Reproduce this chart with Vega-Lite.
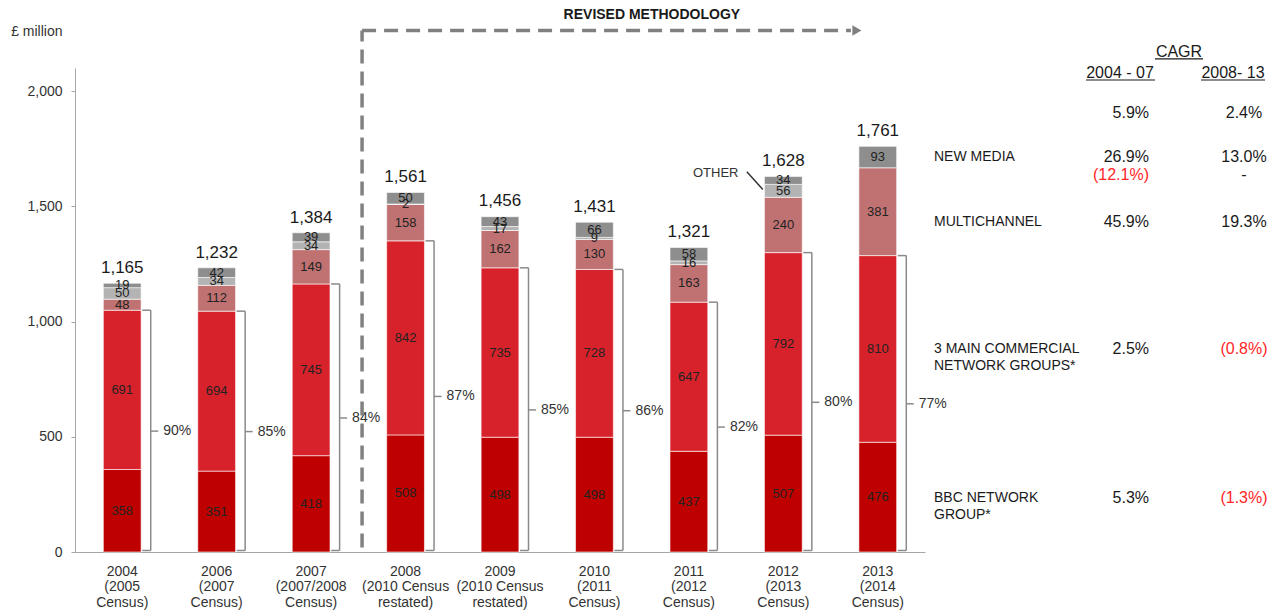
{
  "$schema": "https://vega.github.io/schema/vega-lite/v6.json",
  "width": 1212,
  "height": 484,
  "autosize": {"type": "none"},
  "padding": {"left": 75, "top": 68, "right": 0, "bottom": 62},
  "background": "white",
  "config": {
    "view": {"stroke": null},
    "font": "Liberation Sans",
    "text": {"font": "Liberation Sans"},
    "axis": {"labelFont": "Liberation Sans", "titleFont": "Liberation Sans"}
  },
  "datasets": {
    "segments": [
      {"period": "2004 (2005 Census)", "series": "BBC Network Group", "rank": 1, "value": 358},
      {"period": "2004 (2005 Census)", "series": "3 Main Commercial Network Groups", "rank": 2, "value": 691},
      {"period": "2004 (2005 Census)", "series": "Multichannel", "rank": 3, "value": 48},
      {"period": "2004 (2005 Census)", "series": "Other", "rank": 4, "value": 50},
      {"period": "2004 (2005 Census)", "series": "New Media", "rank": 5, "value": 19},
      {"period": "2006 (2007 Census)", "series": "BBC Network Group", "rank": 1, "value": 351},
      {"period": "2006 (2007 Census)", "series": "3 Main Commercial Network Groups", "rank": 2, "value": 694},
      {"period": "2006 (2007 Census)", "series": "Multichannel", "rank": 3, "value": 112},
      {"period": "2006 (2007 Census)", "series": "Other", "rank": 4, "value": 34},
      {"period": "2006 (2007 Census)", "series": "New Media", "rank": 5, "value": 42},
      {"period": "2007 (2007/2008 Census)", "series": "BBC Network Group", "rank": 1, "value": 418},
      {"period": "2007 (2007/2008 Census)", "series": "3 Main Commercial Network Groups", "rank": 2, "value": 745},
      {"period": "2007 (2007/2008 Census)", "series": "Multichannel", "rank": 3, "value": 149},
      {"period": "2007 (2007/2008 Census)", "series": "Other", "rank": 4, "value": 34},
      {"period": "2007 (2007/2008 Census)", "series": "New Media", "rank": 5, "value": 39},
      {"period": "2008 (2010 Census restated)", "series": "BBC Network Group", "rank": 1, "value": 508},
      {"period": "2008 (2010 Census restated)", "series": "3 Main Commercial Network Groups", "rank": 2, "value": 842},
      {"period": "2008 (2010 Census restated)", "series": "Multichannel", "rank": 3, "value": 158},
      {"period": "2008 (2010 Census restated)", "series": "Other", "rank": 4, "value": 2},
      {"period": "2008 (2010 Census restated)", "series": "New Media", "rank": 5, "value": 50},
      {"period": "2009 (2010 Census restated)", "series": "BBC Network Group", "rank": 1, "value": 498},
      {"period": "2009 (2010 Census restated)", "series": "3 Main Commercial Network Groups", "rank": 2, "value": 735},
      {"period": "2009 (2010 Census restated)", "series": "Multichannel", "rank": 3, "value": 162},
      {"period": "2009 (2010 Census restated)", "series": "Other", "rank": 4, "value": 17},
      {"period": "2009 (2010 Census restated)", "series": "New Media", "rank": 5, "value": 43},
      {"period": "2010 (2011 Census)", "series": "BBC Network Group", "rank": 1, "value": 498},
      {"period": "2010 (2011 Census)", "series": "3 Main Commercial Network Groups", "rank": 2, "value": 728},
      {"period": "2010 (2011 Census)", "series": "Multichannel", "rank": 3, "value": 130},
      {"period": "2010 (2011 Census)", "series": "Other", "rank": 4, "value": 9},
      {"period": "2010 (2011 Census)", "series": "New Media", "rank": 5, "value": 66},
      {"period": "2011 (2012 Census)", "series": "BBC Network Group", "rank": 1, "value": 437},
      {"period": "2011 (2012 Census)", "series": "3 Main Commercial Network Groups", "rank": 2, "value": 647},
      {"period": "2011 (2012 Census)", "series": "Multichannel", "rank": 3, "value": 163},
      {"period": "2011 (2012 Census)", "series": "Other", "rank": 4, "value": 16},
      {"period": "2011 (2012 Census)", "series": "New Media", "rank": 5, "value": 58},
      {"period": "2012 (2013 Census)", "series": "BBC Network Group", "rank": 1, "value": 507},
      {"period": "2012 (2013 Census)", "series": "3 Main Commercial Network Groups", "rank": 2, "value": 792},
      {"period": "2012 (2013 Census)", "series": "Multichannel", "rank": 3, "value": 240},
      {"period": "2012 (2013 Census)", "series": "Other", "rank": 4, "value": 56},
      {"period": "2012 (2013 Census)", "series": "New Media", "rank": 5, "value": 34},
      {"period": "2013 (2014 Census)", "series": "BBC Network Group", "rank": 1, "value": 476},
      {"period": "2013 (2014 Census)", "series": "3 Main Commercial Network Groups", "rank": 2, "value": 810},
      {"period": "2013 (2014 Census)", "series": "Multichannel", "rank": 3, "value": 381},
      {"period": "2013 (2014 Census)", "series": "New Media", "rank": 5, "value": 93}
    ],
    "totals": [
      {"period": "2004 (2005 Census)", "total": 1165},
      {"period": "2006 (2007 Census)", "total": 1232},
      {"period": "2007 (2007/2008 Census)", "total": 1384},
      {"period": "2008 (2010 Census restated)", "total": 1561},
      {"period": "2009 (2010 Census restated)", "total": 1456},
      {"period": "2010 (2011 Census)", "total": 1431},
      {"period": "2011 (2012 Census)", "total": 1321},
      {"period": "2012 (2013 Census)", "total": 1628},
      {"period": "2013 (2014 Census)", "total": 1761}
    ],
    "brackets": [
      {"period": "2004 (2005 Census)", "core": 1049, "share": "90%"},
      {"period": "2006 (2007 Census)", "core": 1045, "share": "85%"},
      {"period": "2007 (2007/2008 Census)", "core": 1163, "share": "84%"},
      {"period": "2008 (2010 Census restated)", "core": 1350, "share": "87%"},
      {"period": "2009 (2010 Census restated)", "core": 1233, "share": "85%"},
      {"period": "2010 (2011 Census)", "core": 1226, "share": "86%"},
      {"period": "2011 (2012 Census)", "core": 1084, "share": "82%"},
      {"period": "2012 (2013 Census)", "core": 1299, "share": "80%"},
      {"period": "2013 (2014 Census)", "core": 1286, "share": "77%"}
    ],
    "cagrLabels": [
      {"col": "label", "text": "NEW MEDIA", "v": 1714},
      {"col": "label", "text": "MULTICHANNEL", "v": 1430},
      {"col": "label", "text": "3 MAIN COMMERCIAL\nNETWORK  GROUPS*", "v": 880},
      {"col": "label", "text": "BBC NETWORK\nGROUP*", "v": 236}
    ],
    "cagrValues": [
      {"col": "2004 - 07", "text": "5.9%", "v": 1906},
      {"col": "2004 - 07", "text": "26.9%", "v": 1714},
      {"col": "2004 - 07", "text": "(12.1%)", "v": 1636},
      {"col": "2004 - 07", "text": "45.9%", "v": 1430},
      {"col": "2004 - 07", "text": "2.5%", "v": 880},
      {"col": "2004 - 07", "text": "5.3%", "v": 236},
      {"col": "2008- 13", "text": "2.4%", "v": 1906},
      {"col": "2008- 13", "text": "13.0%", "v": 1714},
      {"col": "2008- 13", "text": "-", "v": 1636},
      {"col": "2008- 13", "text": "19.3%", "v": 1430},
      {"col": "2008- 13", "text": "(0.8%)", "v": 880},
      {"col": "2008- 13", "text": "(1.3%)", "v": 236}
    ]
  },
  "resolve": {"scale": {"x": "independent"}},
  "layer": [
    {
      "layer": [
        {
          "data": {"name": "segments"},
          "transform": [
            {"stack": "value", "groupby": ["period"], "sort": [{"field": "rank", "order": "ascending"}], "as": ["v0", "v1"]}
          ],
          "mark": {"type": "bar", "stroke": "white", "strokeWidth": 0.6},
          "encoding": {
            "x": {
              "field": "period", "type": "nominal", "sort": null, "title": null,
              "scale": {"domain": ["2004 (2005 Census)", "2006 (2007 Census)", "2007 (2007/2008 Census)", "2008 (2010 Census restated)", "2009 (2010 Census restated)", "2010 (2011 Census)", "2011 (2012 Census)", "2012 (2013 Census)", "2013 (2014 Census)"], "range": [0, 850], "paddingInner": 0.6, "paddingOuter": 0.3},
              "axis": {
                "labelAngle": 0, "ticks": false, "tickSize": 0, "domainColor": "#a6a6a6", "domainWidth": 1,
                "labelFontSize": 14, "labelColor": "#333333", "labelLineHeight": 15.5, "labelPadding": 12,
                "labelExpr": "length(split(datum.value, ' ')) > 3 ? [split(datum.value, ' ')[0], split(datum.value, ' ')[1] + ' ' + split(datum.value, ' ')[2], split(datum.value, ' ')[3]] : split(datum.value, ' ')"
              }
            },
            "y": {
              "field": "v0", "type": "quantitative",
              "scale": {"domain": [0, 2100], "nice": false, "zero": true},
              "axis": {
                "values": [0, 500, 1000, 1500, 2000], "format": ",", "labelExpr": "format(datum.value, ',')", "grid": false,
                "domainColor": "#a6a6a6", "tickColor": "#a6a6a6", "tickSize": 4, "labelPadding": 9,
                "labelFontSize": 14, "labelColor": "#333333",
                "title": "£ million", "titleAngle": 0, "titleAlign": "right", "titleBaseline": "middle",
                "titleX": -13, "titleY": -37, "titleFontSize": 14, "titleFontWeight": "normal", "titleColor": "#333333"
              }
            },
            "y2": {"field": "v1"},
            "color": {
              "field": "series", "type": "nominal", "legend": null,
              "scale": {
                "domain": ["BBC Network Group", "3 Main Commercial Network Groups", "Multichannel", "Other", "New Media"],
                "range": ["#BF0000", "#D7222B", "#C07272", "#B3B3B3", "#8E8E8E"]
              }
            }
          }
        },
        {
          "data": {"name": "segments"},
          "transform": [
            {"stack": "value", "groupby": ["period"], "sort": [{"field": "rank", "order": "ascending"}], "as": ["v0", "v1"]},
            {"calculate": "(datum.v0 + datum.v1) / 2", "as": "mid"}
          ],
          "mark": {"type": "text", "fontSize": 13, "color": "#222222", "baseline": "middle", "align": "center"},
          "encoding": {
            "x": {"field": "period", "type": "nominal", "sort": null,
              "scale": {"domain": ["2004 (2005 Census)", "2006 (2007 Census)", "2007 (2007/2008 Census)", "2008 (2010 Census restated)", "2009 (2010 Census restated)", "2010 (2011 Census)", "2011 (2012 Census)", "2012 (2013 Census)", "2013 (2014 Census)"], "range": [0, 850], "paddingInner": 0.6, "paddingOuter": 0.3}},
            "y": {"field": "mid", "type": "quantitative", "scale": {"domain": [0, 2100], "nice": false, "zero": true}},
            "text": {"field": "value", "type": "quantitative", "format": "d"}
          }
        },
        {
          "data": {"name": "totals"},
          "mark": {"type": "text", "fontSize": 17, "color": "#1a1a1a", "baseline": "middle", "align": "center", "dy": -15.5},
          "encoding": {
            "x": {"field": "period", "type": "nominal", "sort": null,
              "scale": {"domain": ["2004 (2005 Census)", "2006 (2007 Census)", "2007 (2007/2008 Census)", "2008 (2010 Census restated)", "2009 (2010 Census restated)", "2010 (2011 Census)", "2011 (2012 Census)", "2012 (2013 Census)", "2013 (2014 Census)"], "range": [0, 850], "paddingInner": 0.6, "paddingOuter": 0.3}},
            "y": {"field": "total", "type": "quantitative", "scale": {"domain": [0, 2100], "nice": false, "zero": true}},
            "text": {"field": "total", "type": "quantitative", "format": ","}
          }
        },
        {
          "data": {"name": "brackets"},
          "mark": {"type": "rule", "color": "#8a8a8a", "strokeWidth": 1.5, "xOffset": 20, "x2Offset": 28.5},
          "encoding": {
            "x": {"field": "period", "type": "nominal", "sort": null, "bandPosition": 0.5,
              "scale": {"domain": ["2004 (2005 Census)", "2006 (2007 Census)", "2007 (2007/2008 Census)", "2008 (2010 Census restated)", "2009 (2010 Census restated)", "2010 (2011 Census)", "2011 (2012 Census)", "2012 (2013 Census)", "2013 (2014 Census)"], "range": [0, 850], "paddingInner": 0.6, "paddingOuter": 0.3}},
            "x2": {"field": "period", "bandPosition": 0.5},
            "y": {"field": "core", "type": "quantitative", "scale": {"domain": [0, 2100], "nice": false, "zero": true}}
          }
        },
        {
          "data": {"name": "brackets"},
          "mark": {"type": "rule", "color": "#8a8a8a", "strokeWidth": 1.5, "xOffset": 20, "x2Offset": 28.5, "yOffset": -1.5},
          "encoding": {
            "x": {"field": "period", "type": "nominal", "sort": null, "bandPosition": 0.5,
              "scale": {"domain": ["2004 (2005 Census)", "2006 (2007 Census)", "2007 (2007/2008 Census)", "2008 (2010 Census restated)", "2009 (2010 Census restated)", "2010 (2011 Census)", "2011 (2012 Census)", "2012 (2013 Census)", "2013 (2014 Census)"], "range": [0, 850], "paddingInner": 0.6, "paddingOuter": 0.3}},
            "x2": {"field": "period", "bandPosition": 0.5},
            "y": {"datum": 0, "type": "quantitative", "scale": {"domain": [0, 2100], "nice": false, "zero": true}}
          }
        },
        {
          "data": {"name": "brackets"},
          "mark": {"type": "rule", "color": "#8a8a8a", "strokeWidth": 1.5, "xOffset": 28.5, "y2Offset": -1.5},
          "encoding": {
            "x": {"field": "period", "type": "nominal", "sort": null,
              "scale": {"domain": ["2004 (2005 Census)", "2006 (2007 Census)", "2007 (2007/2008 Census)", "2008 (2010 Census restated)", "2009 (2010 Census restated)", "2010 (2011 Census)", "2011 (2012 Census)", "2012 (2013 Census)", "2013 (2014 Census)"], "range": [0, 850], "paddingInner": 0.6, "paddingOuter": 0.3}},
            "y": {"field": "core", "type": "quantitative", "scale": {"domain": [0, 2100], "nice": false, "zero": true}},
            "y2": {"datum": 0}
          }
        },
        {
          "data": {"name": "brackets"},
          "transform": [{"calculate": "datum.core / 2", "as": "mid"}],
          "mark": {"type": "rule", "color": "#8a8a8a", "strokeWidth": 1.5, "xOffset": 28.5, "x2Offset": 36},
          "encoding": {
            "x": {"field": "period", "type": "nominal", "sort": null, "bandPosition": 0.5,
              "scale": {"domain": ["2004 (2005 Census)", "2006 (2007 Census)", "2007 (2007/2008 Census)", "2008 (2010 Census restated)", "2009 (2010 Census restated)", "2010 (2011 Census)", "2011 (2012 Census)", "2012 (2013 Census)", "2013 (2014 Census)"], "range": [0, 850], "paddingInner": 0.6, "paddingOuter": 0.3}},
            "x2": {"field": "period", "bandPosition": 0.5},
            "y": {"field": "mid", "type": "quantitative", "scale": {"domain": [0, 2100], "nice": false, "zero": true}}
          }
        },
        {
          "data": {"name": "brackets"},
          "transform": [{"calculate": "datum.core / 2", "as": "mid"}],
          "mark": {"type": "text", "fontSize": 14, "color": "#333333", "align": "left", "baseline": "middle", "dx": 41},
          "encoding": {
            "x": {"field": "period", "type": "nominal", "sort": null,
              "scale": {"domain": ["2004 (2005 Census)", "2006 (2007 Census)", "2007 (2007/2008 Census)", "2008 (2010 Census restated)", "2009 (2010 Census restated)", "2010 (2011 Census)", "2011 (2012 Census)", "2012 (2013 Census)", "2013 (2014 Census)"], "range": [0, 850], "paddingInner": 0.6, "paddingOuter": 0.3}},
            "y": {"field": "mid", "type": "quantitative", "scale": {"domain": [0, 2100], "nice": false, "zero": true}},
            "text": {"field": "share", "type": "nominal"}
          }
        },
        {
          "data": {"values": [{"from": "2008 (2010 Census restated)", "to": "2013 (2014 Census)", "level": 2263, "base": 20, "caption": "REVISED METHODOLOGY", "captionAt": "2011 (2012 Census)", "captionLevel": 2331}]},
          "layer": [
            {
              "mark": {"type": "rule", "color": "#808080", "strokeWidth": 3.5, "strokeDash": [14, 8], "xOffset": -24.6},
              "encoding": {
                "x": {"field": "from", "type": "nominal", "sort": null, "bandPosition": 0,
                  "scale": {"domain": ["2004 (2005 Census)", "2006 (2007 Census)", "2007 (2007/2008 Census)", "2008 (2010 Census restated)", "2009 (2010 Census restated)", "2010 (2011 Census)", "2011 (2012 Census)", "2012 (2013 Census)", "2013 (2014 Census)"], "range": [0, 850], "paddingInner": 0.6, "paddingOuter": 0.3}},
                "y": {"field": "base", "type": "quantitative", "scale": {"domain": [0, 2100], "nice": false, "zero": true}},
                "y2": {"field": "level"}
              }
            },
            {
              "mark": {"type": "rule", "color": "#808080", "strokeWidth": 3.5, "strokeDash": [14, 8], "xOffset": -24.6, "x2Offset": -8},
              "encoding": {
                "x": {"field": "from", "type": "nominal", "sort": null, "bandPosition": 0,
                  "scale": {"domain": ["2004 (2005 Census)", "2006 (2007 Census)", "2007 (2007/2008 Census)", "2008 (2010 Census restated)", "2009 (2010 Census restated)", "2010 (2011 Census)", "2011 (2012 Census)", "2012 (2013 Census)", "2013 (2014 Census)"], "range": [0, 850], "paddingInner": 0.6, "paddingOuter": 0.3}},
                "x2": {"field": "to", "bandPosition": 0},
                "y": {"field": "level", "type": "quantitative", "scale": {"domain": [0, 2100], "nice": false, "zero": true}}
              }
            },
            {
              "mark": {"type": "point", "shape": "triangle-right", "filled": true, "color": "#808080", "opacity": 1, "size": 110, "xOffset": -2},
              "encoding": {
                "x": {"field": "to", "type": "nominal", "sort": null, "bandPosition": 0,
                  "scale": {"domain": ["2004 (2005 Census)", "2006 (2007 Census)", "2007 (2007/2008 Census)", "2008 (2010 Census restated)", "2009 (2010 Census restated)", "2010 (2011 Census)", "2011 (2012 Census)", "2012 (2013 Census)", "2013 (2014 Census)"], "range": [0, 850], "paddingInner": 0.6, "paddingOuter": 0.3}},
                "y": {"field": "level", "type": "quantitative", "scale": {"domain": [0, 2100], "nice": false, "zero": true}}
              }
            },
            {
              "mark": {"type": "text", "fontSize": 14, "fontWeight": "bold", "color": "#1a1a1a", "align": "center", "baseline": "middle", "dx": -37},
              "encoding": {
                "x": {"field": "captionAt", "type": "nominal", "sort": null,
                  "scale": {"domain": ["2004 (2005 Census)", "2006 (2007 Census)", "2007 (2007/2008 Census)", "2008 (2010 Census restated)", "2009 (2010 Census restated)", "2010 (2011 Census)", "2011 (2012 Census)", "2012 (2013 Census)", "2013 (2014 Census)"], "range": [0, 850], "paddingInner": 0.6, "paddingOuter": 0.3}},
                "y": {"field": "captionLevel", "type": "quantitative", "scale": {"domain": [0, 2100], "nice": false, "zero": true}},
                "text": {"field": "caption", "type": "nominal"}
              }
            }
          ]
        },
        {
          "data": {"values": [{"period": "2012 (2013 Census)", "note": "OTHER", "at": 1646, "from": 1650, "to": 1573}]},
          "layer": [
            {
              "mark": {"type": "text", "fontSize": 13, "color": "#333333", "align": "right", "baseline": "middle", "dx": -26},
              "encoding": {
                "x": {"field": "period", "type": "nominal", "sort": null, "bandPosition": 0,
                  "scale": {"domain": ["2004 (2005 Census)", "2006 (2007 Census)", "2007 (2007/2008 Census)", "2008 (2010 Census restated)", "2009 (2010 Census restated)", "2010 (2011 Census)", "2011 (2012 Census)", "2012 (2013 Census)", "2013 (2014 Census)"], "range": [0, 850], "paddingInner": 0.6, "paddingOuter": 0.3}},
                "y": {"field": "at", "type": "quantitative", "scale": {"domain": [0, 2100], "nice": false, "zero": true}},
                "text": {"field": "note", "type": "nominal"}
              }
            },
            {
              "mark": {"type": "rule", "color": "#333333", "strokeWidth": 1.5, "xOffset": -17.6, "x2Offset": -1.6},
              "encoding": {
                "x": {"field": "period", "type": "nominal", "sort": null, "bandPosition": 0,
                  "scale": {"domain": ["2004 (2005 Census)", "2006 (2007 Census)", "2007 (2007/2008 Census)", "2008 (2010 Census restated)", "2009 (2010 Census restated)", "2010 (2011 Census)", "2011 (2012 Census)", "2012 (2013 Census)", "2013 (2014 Census)"], "range": [0, 850], "paddingInner": 0.6, "paddingOuter": 0.3}},
                "x2": {"field": "period", "bandPosition": 0},
                "y": {"field": "from", "type": "quantitative", "scale": {"domain": [0, 2100], "nice": false, "zero": true}},
                "y2": {"field": "to"}
              }
            }
          ]
        }
      ]
    },
    {
      "layer": [
        {
          "data": {"name": "cagrLabels"},
          "mark": {"type": "text", "fontSize": 14, "color": "#1a1a1a", "align": "left", "baseline": "middle", "lineBreak": "\n", "lineHeight": 17},
          "encoding": {
            "x": {"field": "col", "type": "nominal", "axis": null, "scale": {"type": "point", "domain": ["label", "2004 - 07", "2008- 13"], "range": [859, 1169], "padding": 0}},
            "y": {"field": "v", "type": "quantitative", "scale": {"domain": [0, 2100], "nice": false, "zero": true}},
            "text": {"field": "text", "type": "nominal"}
          }
        },
        {
          "data": {"name": "cagrValues"},
          "transform": [{"filter": "datum.col == '2004 - 07'"}],
          "mark": {"type": "text", "fontSize": 16, "align": "right", "baseline": "middle", "dx": 60},
          "encoding": {
            "x": {"field": "col", "type": "nominal", "axis": null, "scale": {"type": "point", "domain": ["label", "2004 - 07", "2008- 13"], "range": [859, 1169], "padding": 0}},
            "y": {"field": "v", "type": "quantitative", "scale": {"domain": [0, 2100], "nice": false, "zero": true}},
            "text": {"field": "text", "type": "nominal"},
            "color": {"condition": {"test": "indexof(datum.text, '(') == 0", "value": "#FF2626"}, "value": "#1a1a1a"}
          }
        },
        {
          "data": {"name": "cagrValues"},
          "transform": [{"filter": "datum.col == '2008- 13'"}],
          "mark": {"type": "text", "fontSize": 16, "align": "center", "baseline": "middle"},
          "encoding": {
            "x": {"field": "col", "type": "nominal", "axis": null, "scale": {"type": "point", "domain": ["label", "2004 - 07", "2008- 13"], "range": [859, 1169], "padding": 0}},
            "y": {"field": "v", "type": "quantitative", "scale": {"domain": [0, 2100], "nice": false, "zero": true}},
            "text": {"field": "text", "type": "nominal"},
            "color": {"condition": {"test": "indexof(datum.text, '(') == 0", "value": "#FF2626"}, "value": "#1a1a1a"}
          }
        },
        {
          "data": {"values": [{"col": "2004 - 07", "v": 2080, "line": 2048}]},
          "layer": [
            {
              "mark": {"type": "text", "fontSize": 16, "color": "#1a1a1a", "align": "center", "baseline": "middle", "dx": 31},
              "encoding": {
                "x": {"field": "col", "type": "nominal", "axis": null, "scale": {"type": "point", "domain": ["label", "2004 - 07", "2008- 13"], "range": [859, 1169], "padding": 0}},
                "y": {"field": "v", "type": "quantitative", "scale": {"domain": [0, 2100], "nice": false, "zero": true}},
                "text": {"field": "col", "type": "nominal"}
              }
            },
            {
              "mark": {"type": "rule", "color": "#1a1a1a", "strokeWidth": 1.2, "xOffset": -3, "x2Offset": 66},
              "encoding": {
                "x": {"field": "col", "type": "nominal", "axis": null, "scale": {"type": "point", "domain": ["label", "2004 - 07", "2008- 13"], "range": [859, 1169], "padding": 0}},
                "x2": {"field": "col"},
                "y": {"field": "line", "type": "quantitative", "scale": {"domain": [0, 2100], "nice": false, "zero": true}}
              }
            }
          ]
        },
        {
          "data": {"values": [{"col": "2008- 13", "v": 2080, "line": 2048}]},
          "layer": [
            {
              "mark": {"type": "text", "fontSize": 16, "color": "#1a1a1a", "align": "center", "baseline": "middle", "dx": -11},
              "encoding": {
                "x": {"field": "col", "type": "nominal", "axis": null, "scale": {"type": "point", "domain": ["label", "2004 - 07", "2008- 13"], "range": [859, 1169], "padding": 0}},
                "y": {"field": "v", "type": "quantitative", "scale": {"domain": [0, 2100], "nice": false, "zero": true}},
                "text": {"field": "col", "type": "nominal"}
              }
            },
            {
              "mark": {"type": "rule", "color": "#1a1a1a", "strokeWidth": 1.2, "xOffset": -43, "x2Offset": 21},
              "encoding": {
                "x": {"field": "col", "type": "nominal", "axis": null, "scale": {"type": "point", "domain": ["label", "2004 - 07", "2008- 13"], "range": [859, 1169], "padding": 0}},
                "x2": {"field": "col"},
                "y": {"field": "line", "type": "quantitative", "scale": {"domain": [0, 2100], "nice": false, "zero": true}}
              }
            }
          ]
        },
        {
          "data": {"values": [{"col": "2008- 13", "title": "CAGR", "v": 2169, "line": 2140}]},
          "layer": [
            {
              "mark": {"type": "text", "fontSize": 16, "color": "#1a1a1a", "align": "center", "baseline": "middle", "dx": -65},
              "encoding": {
                "x": {"field": "col", "type": "nominal", "axis": null, "scale": {"type": "point", "domain": ["label", "2004 - 07", "2008- 13"], "range": [859, 1169], "padding": 0}},
                "y": {"field": "v", "type": "quantitative", "scale": {"domain": [0, 2100], "nice": false, "zero": true}},
                "text": {"field": "title", "type": "nominal"}
              }
            },
            {
              "mark": {"type": "rule", "color": "#1a1a1a", "strokeWidth": 1.2, "xOffset": -89, "x2Offset": -41},
              "encoding": {
                "x": {"field": "col", "type": "nominal", "axis": null, "scale": {"type": "point", "domain": ["label", "2004 - 07", "2008- 13"], "range": [859, 1169], "padding": 0}},
                "x2": {"field": "col"},
                "y": {"field": "line", "type": "quantitative", "scale": {"domain": [0, 2100], "nice": false, "zero": true}}
              }
            }
          ]
        }
      ]
    }
  ]
}
